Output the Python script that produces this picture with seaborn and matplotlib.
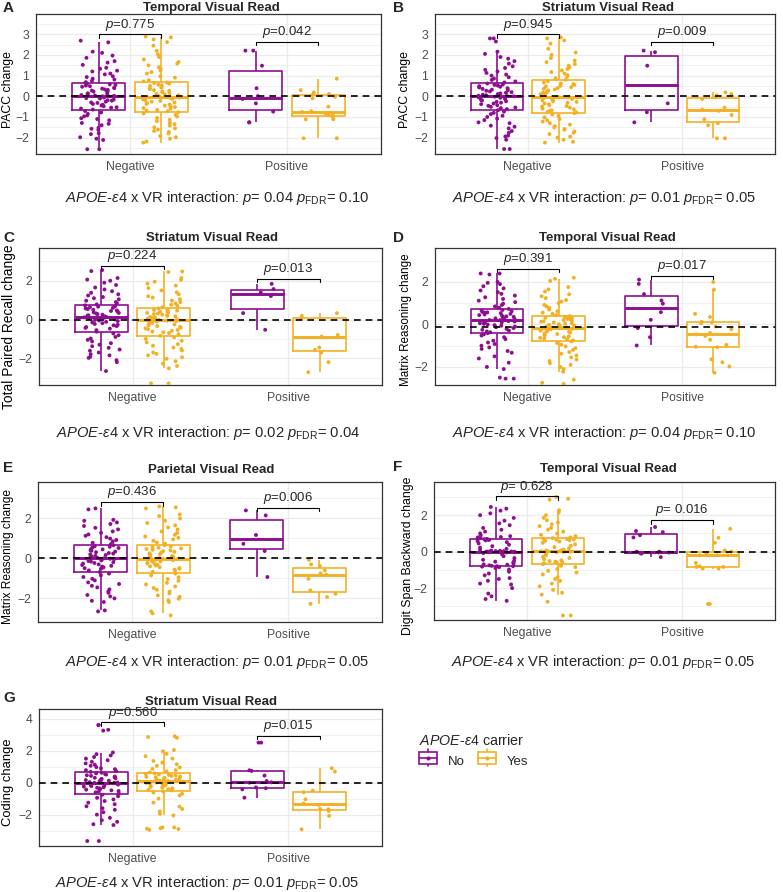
import numpy as np
import pandas as pd
import matplotlib
matplotlib.use("Agg")
import matplotlib.pyplot as plt
import seaborn as sns
from matplotlib.ticker import MultipleLocator
from matplotlib.patches import Rectangle, Patch
from matplotlib.lines import Line2D
from matplotlib.legend_handler import HandlerBase

# -------- data --------

vr_levels = ["Negative", "Positive"]
carrier_levels = ["No", "Yes"]

panel_letters = ["A", "B", "C", "D", "E", "F", "G"]
panel_titles = ["Temporal Visual Read", "Striatum Visual Read", "Striatum Visual Read",
                "Temporal Visual Read", "Parietal Visual Read", "Temporal Visual Read",
                "Striatum Visual Read"]
y_labels = ["PACC change", "PACC change", "Total Paired Recall change",
            "Matrix Reasoning change", "Matrix Reasoning change",
            "Digit Span Backward change", "Coding change"]
neg_p = ["=0.775", "=0.945", "=0.224", "=0.391", "=0.436", "= 0.628", "=0.560"]
pos_p = ["=0.042", "=0.009", "=0.013", "=0.017", "=0.006", "= 0.016", "=0.015"]
inter_p = ["0.04", "0.01", "0.02", "0.04", "0.01", "0.01", "0.01"]
fdr_p = ["0.10", "0.05", "0.04", "0.10", "0.05", "0.05", "0.05"]

# A: PACC, temporal
a_neg_no = [-2.56, -2.56, -2.11, -2.05, -1.98, -1.83, -1.79, -1.62, -1.57, -1.52, -1.4, -1.33, -1.29, -1.16,
            -1.1, -1.06, -0.97, -0.92, -0.85, -0.78, -0.71, -0.64, -0.59, -0.55, -0.53, -0.48, -0.44, -0.41,
            -0.37, -0.32, -0.3, -0.26, -0.21, -0.19, -0.16, -0.11, -0.09, -0.06, -0.04, -0.01, 0.0, 0.02,
            0.04, 0.06, 0.1, 0.13, 0.14, 0.19, 0.22, 0.23, 0.28, 0.31, 0.33, 0.37, 0.4, 0.41, 0.46, 0.49,
            0.52, 0.55, 0.58, 0.61, 0.66, 0.68, 0.75, 0.81, 0.85, 0.93, 0.97, 1.06, 1.1, 1.2, 1.24, 1.33,
            1.38, 1.52, 1.63, 1.7, 1.86, 1.97, 2.1, 2.16, 2.61, 2.69]
a_neg_yes = [-2.24, -2.19, -2.05, -1.98, -1.92, -1.8, -1.72, -1.68, -1.61, -1.55, -1.5, -1.42, -1.35, -1.28,
             -1.2, -1.14, -1.05, -0.98, -0.9, -0.83, -0.77, -0.72, -0.69, -0.66, -0.6, -0.57, -0.52, -0.49,
             -0.45, -0.4, -0.37, -0.33, -0.3, -0.26, -0.22, -0.19, -0.15, -0.12, -0.09, -0.06, -0.04,
             -0.02, 0.01, 0.05, 0.09, 0.12, 0.16, 0.2, 0.23, 0.27, 0.3, 0.35, 0.38, 0.42, 0.46, 0.5, 0.53,
             0.57, 0.61, 0.64, 0.67, 0.72, 0.78, 0.9, 0.96, 1.1, 1.17, 1.25, 1.33, 1.4, 1.5, 1.58, 1.66,
             1.78, 1.9, 2.03, 2.2, 2.45, 2.62, 2.75, 2.85, 2.89]
a_pos_no = [2.21, 2.21, 1.48, 0.39, 0.01, -0.13, -0.34, -0.74, -1.26, -1.26]
a_pos_yes = [0.85, 0.30, 0.19, 0.11, 0.08, -0.02, -0.1, -0.5, -0.72, -0.76, -0.82, -0.87, -0.9, -0.99,
             -1.11, -1.11, -2.03, -2.03]

# B: PACC, striatum
b_neg_no = [-2.55, -2.55, -2.1, -2.02, -1.94, -1.9, -1.76, -1.68, -1.55, -1.47, -1.42, -1.3, -1.26, -1.15,
            -1.08, -1.0, -0.94, -0.86, -0.8, -0.74, -0.67, -0.62, -0.57, -0.54, -0.51, -0.46, -0.43, -0.38,
            -0.35, -0.31, -0.27, -0.24, -0.2, -0.17, -0.13, -0.1, -0.07, -0.05, -0.02, 0.0, 0.01,
            0.03, 0.05, 0.08, 0.11, 0.14, 0.17, 0.2, 0.24, 0.27, 0.3, 0.32, 0.36, 0.39, 0.43, 0.46, 0.49,
            0.52, 0.55, 0.57, 0.62, 0.67, 0.72, 0.79, 0.86, 0.92, 1.0, 1.05, 1.13, 1.2, 1.28, 1.37, 1.45,
            1.58, 1.7, 1.82, 1.9, 2.05, 2.16, 2.65, 2.8, 2.8]
b_neg_yes = [-2.24, -2.2, -2.1, -2.0, -1.95, -1.83, -1.76, -1.7, -1.62, -1.58, -1.5, -1.44, -1.37, -1.3,
             -1.22, -1.16, -1.1, -1.02, -0.95, -0.88, -0.82, -0.78, -0.75, -0.71, -0.68, -0.63, -0.6, -0.55,
             -0.5, -0.47, -0.43, -0.39, -0.35, -0.31, -0.27, -0.24, -0.2, -0.16, -0.13, -0.1, -0.07,
             -0.05, -0.02, 0.02, 0.06, 0.1, 0.14, 0.17, 0.21, 0.25, 0.29, 0.33, 0.36, 0.4, 0.44, 0.48, 0.51,
             0.55, 0.59, 0.62, 0.67, 0.73, 0.8, 0.87, 0.95, 1.02, 1.1, 1.17, 1.25, 1.32, 1.4, 1.48, 1.56,
             1.65, 1.73, 1.85, 2.0, 2.12, 2.3, 2.55, 2.7, 2.8, 2.85]
b_pos_no = [2.21, 2.13, 1.48, -0.34, -0.77, -1.26]
b_pos_yes = [0.19, 0.11, 0.05, -0.05, -0.13, -0.55, -0.7, -0.65, -0.9, -1.11, -1.3, -1.4, -2.03, -2.03]

# C: Total Paired Recall, striatum
c_neg_no = [-2.66, -2.2, -2.1, -1.98, -1.92, -1.85, -1.79, -1.7, -1.61, -1.55, -1.46, -1.38, -1.3, -1.22,
            -1.13, -1.05, -0.98, -0.9, -0.81, -0.72, -0.63, -0.55, -0.47, -0.43, -0.39, -0.34, -0.3, -0.27,
            -0.23, -0.19, -0.15, -0.12, -0.08, -0.05, -0.02, 0.01, 0.03, 0.06, 0.08, 0.1, 0.11,
            0.13, 0.16, 0.19, 0.22, 0.25, 0.28, 0.31, 0.34, 0.37, 0.41, 0.44, 0.47, 0.5, 0.54, 0.57, 0.6,
            0.63, 0.66, 0.68, 0.73, 0.78, 0.84, 0.9, 0.97, 1.04, 1.1, 1.16, 1.24, 1.3, 1.38, 1.46, 1.55,
            1.65, 1.78, 1.9, 2.0, 2.06, 2.14, 2.5, 2.55]
c_neg_yes = [-3.3, -3.3, -2.52, -2.4, -2.28, -2.15, -2.03, -1.95, -1.85, -1.77, -1.7, -1.6, -1.52, -1.45,
             -1.35, -1.27, -1.18, -1.1, -1.0, -0.92, -0.84, -0.76, -0.7, -0.66, -0.62, -0.58, -0.54, -0.5,
             -0.46, -0.42, -0.38, -0.34, -0.3, -0.26, -0.22, -0.18, -0.14, -0.11, -0.08, -0.06, -0.04,
             -0.02, 0.01, 0.04, 0.07, 0.1, 0.13, 0.16, 0.19, 0.22, 0.25, 0.28, 0.31, 0.34, 0.37, 0.4, 0.43,
             0.46, 0.49, 0.52, 0.57, 0.63, 0.7, 0.76, 0.83, 0.9, 0.98, 1.05, 1.13, 1.2, 1.3, 1.4, 1.5,
             1.62, 1.75, 1.85, 1.95, 2.05, 2.14, 2.45, 2.48]
c_pos_no = [1.84, 1.57, 1.40, 1.21, 0.33, -0.53]
c_pos_yes = [0.33, 0.19, 0.12, 0.05, -0.8, -0.88, -1.45, -1.57, -1.71, -2.2, -2.72]

# D: Matrix Reasoning, temporal
d_neg_no = [-2.55, -2.55, -2.5, -2.1, -2.0, -1.8, -1.6, -1.5, -1.33, -1.25, -1.15, -1.08, -1.0, -0.92,
            -0.85, -0.76, -0.69, -0.6, -0.52, -0.46, -0.41, -0.37, -0.33, -0.29, -0.25, -0.21, -0.17, -0.13,
            -0.1, -0.06, -0.03, 0.0, 0.03, 0.06, 0.09, 0.1, 0.12, 0.14, 0.16, 0.18,
            0.2, 0.21, 0.23, 0.26, 0.29, 0.32, 0.35, 0.36, 0.38, 0.41, 0.44, 0.47, 0.5, 0.53, 0.56, 0.57,
            0.59, 0.62, 0.65, 0.68, 0.73, 0.79, 0.85, 0.92, 0.98, 1.05, 1.12, 1.2, 1.28, 1.36, 1.44, 1.52,
            1.6, 1.7, 1.8, 1.9, 1.96, 2.0, 2.35, 2.4, 2.4]
d_neg_yes = [-2.8, -2.75, -2.6, -2.22, -2.1, -2.0, -1.9, -1.82, -1.72, -1.65, -1.55, -1.46, -1.38, -1.3,
             -1.2, -1.12, -1.03, -0.95, -0.87, -0.8, -0.75, -0.7, -0.67, -0.63, -0.6, -0.56, -0.52, -0.49,
             -0.45, -0.42, -0.38, -0.35, -0.32, -0.29, -0.26, -0.23, -0.21, -0.19, -0.17, -0.15,
             -0.14, -0.11, -0.08, -0.05, -0.02, 0.01, 0.04, 0.07, 0.1, 0.13, 0.15, 0.18, 0.21, 0.24, 0.26,
             0.29, 0.31, 0.33, 0.35, 0.39, 0.44, 0.5, 0.56, 0.62, 0.7, 0.78, 0.85, 0.92, 1.0, 1.08, 1.15,
             1.24, 1.33, 1.42, 1.55, 1.65, 1.76, 2.05, 2.15, 2.2]
d_pos_no = [2.11, 1.91, 1.43, 1.13, 0.98, 0.58, 0.22, -0.17, -0.6, -0.99]
d_pos_yes = [2.0, 1.64, 0.5, 0.35, 0.12, 0.1, 0.06, -0.1, -0.22, -0.4, -0.47, -0.54, -0.72, -0.96,
             -1.05, -1.07, -1.64, -1.78, -1.98, -2.27]

# E: Matrix Reasoning, parietal
e_neg_no = [-2.65, -2.6, -2.18, -2.12, -2.0, -1.9, -1.83, -1.72, -1.65, -1.55, -1.45, -1.37, -1.28, -1.2,
            -1.1, -1.02, -0.93, -0.85, -0.76, -0.68, -0.6, -0.52, -0.49, -0.45, -0.41, -0.37, -0.33, -0.3,
            -0.26, -0.23, -0.19, -0.16, -0.13, -0.1, -0.07, -0.04, -0.02, 0.0, 0.01, 0.02,
            0.04, 0.07, 0.1, 0.13, 0.17, 0.2, 0.24, 0.27, 0.31, 0.34, 0.38, 0.41, 0.45, 0.48, 0.52, 0.55,
            0.58, 0.61, 0.66, 0.72, 0.78, 0.85, 0.92, 0.99, 1.06, 1.13, 1.2, 1.28, 1.35, 1.45, 1.53, 1.62,
            1.72, 1.8, 1.88, 1.93, 2.45, 2.5]
e_neg_yes = [-2.85, -2.75, -2.65, -2.18, -2.1, -2.02, -1.92, -1.85, -1.75, -1.66, -1.57, -1.48, -1.4, -1.3,
             -1.22, -1.12, -1.03, -0.94, -0.85, -0.76, -0.67, -0.61, -0.56, -0.52, -0.48, -0.44, -0.4, -0.36,
             -0.32, -0.29, -0.25, -0.22, -0.18, -0.15, -0.12, -0.09, -0.06, -0.04, -0.03,
             -0.01, 0.02, 0.05, 0.08, 0.12, 0.15, 0.19, 0.22, 0.26, 0.29, 0.33, 0.36, 0.4, 0.43, 0.47, 0.5,
             0.53, 0.55, 0.6, 0.66, 0.73, 0.8, 0.88, 0.95, 1.03, 1.1, 1.18, 1.27, 1.35, 1.45, 1.55, 1.65,
             1.77, 1.88, 2.0, 2.12, 2.2, 2.5, 2.55, 2.6]
e_pos_no = [2.4, 2.15, 1.17, 0.73, 0.37, -0.93]
e_pos_yes = [-0.07, -0.3, -0.38, -0.6, -0.75, -0.82, -1.02, -1.6, -1.77, -1.93, -2.27]

# F: Digit Span Backward, temporal
f_neg_no = [-2.7, -2.6, -2.45, -2.3, -2.0, -1.8, -1.75, -1.6, -1.5, -1.45, -1.3, -1.2, -1.1, -0.98, -0.9,
            -0.85, -0.82, -0.8, -0.8, -0.78, -0.75, -0.72, -0.7, -0.65, -0.6, -0.55, -0.5, -0.45, -0.35,
            -0.25, -0.15, -0.08, -0.05, -0.03, -0.02, -0.01, 0.0, 0.0, 0.0, 0.0,
            0.0, 0.01, 0.02, 0.03, 0.05, 0.06, 0.1, 0.15, 0.22, 0.3, 0.38, 0.45, 0.52, 0.58, 0.62, 0.64,
            0.66, 0.68, 0.7, 0.72, 0.75, 0.78, 0.8, 0.85, 0.9, 1.0, 1.1, 1.2, 1.3, 1.45, 1.55, 1.7, 1.85,
            2.0, 2.1, 2.25, 2.36, 2.45]
f_neg_yes = [-3.5, -3.5, -2.75, -2.36, -2.25, -2.1, -1.9, -1.75, -1.6, -1.5, -1.4, -1.25, -1.15, -1.05,
             -0.95, -0.85, -0.78, -0.72, -0.68, -0.64, -0.6, -0.57, -0.55, -0.52, -0.48, -0.42, -0.35, -0.28,
             -0.2, -0.12, -0.06, -0.03, -0.01, 0.0, 0.0, 0.01, 0.02, 0.03, 0.04, 0.05,
             0.06, 0.08, 0.12, 0.18, 0.25, 0.32, 0.4, 0.48, 0.55, 0.6, 0.63, 0.65, 0.67, 0.69, 0.7, 0.71,
             0.74, 0.78, 0.85, 0.92, 1.0, 1.1, 1.2, 1.3, 1.4, 1.5, 1.6, 1.72, 1.85, 2.0, 2.15, 2.27, 2.85,
             2.9, 3.0]
f_pos_no = [1.35, 1.13, 1.07, 0.9, 0.78, 0.0, 0.0, -0.05, -0.05, -0.1, -0.1, -0.3]
f_pos_yes = [1.25, 0.76, 0.49, 0.07, 0.0, -0.1, -0.2, -0.2, -0.2, -0.62, -0.84, -0.84, -0.8, -0.93, -0.93,
             -2.87, -2.87]

# G: Coding, striatum
g_neg_no = [-3.65, -3.65, -2.65, -2.6, -2.45, -2.35, -2.2, -2.0, -1.85, -1.7, -1.6, -1.48, -1.35, -1.25,
            -1.15, -1.05, -0.95, -0.85, -0.76, -0.68, -0.61, -0.56, -0.52, -0.48, -0.44, -0.4, -0.36, -0.32,
            -0.29, -0.25, -0.22, -0.18, -0.15, -0.12, -0.09, -0.06, -0.04, -0.02, -0.01,
            0.01, 0.03, 0.06, 0.09, 0.12, 0.16, 0.2, 0.23, 0.27, 0.3, 0.34, 0.38, 0.42, 0.46, 0.5, 0.54,
            0.58, 0.62, 0.67, 0.72, 0.78, 0.84, 0.9, 0.97, 1.05, 1.12, 1.2, 1.3, 1.4, 1.5, 1.6, 1.7, 1.78,
            1.88, 3.25, 3.3, 3.6, 3.6]
g_neg_yes = [-2.95, -2.9, -2.88, -2.85, -2.8, -2.8, -2.05, -1.95, -1.8, -1.65, -1.5, -1.25, -1.0, -0.8,
             -0.7, -0.62, -0.55, -0.49, -0.45, -0.41, -0.36, -0.31, -0.27, -0.22, -0.18, -0.14, -0.1, -0.06,
             -0.02, 0.01, 0.04, 0.06, 0.08, 0.1, 0.12, 0.15, 0.18, 0.21, 0.24, 0.27, 0.3, 0.33, 0.36, 0.39,
             0.42, 0.45, 0.48, 0.51, 0.54, 0.58, 0.64, 0.7, 0.78, 0.86, 0.95, 1.05, 1.15, 1.25, 1.35, 1.5,
             1.65, 1.8, 1.95, 2.04, 2.8, 2.85, 2.9]
g_pos_no = [2.5, 2.5, 0.77, 0.73, 0.44, 0.1, 0.02, 0.0, -0.3, -0.35, -0.42, -0.94]
g_pos_yes = [0.9, 0.69, -0.5, -0.6, -1.04, -1.3, -1.4, -1.65, -1.67, -1.77, -2.08, -2.92]

panel_data = [
    (a_neg_no, a_neg_yes, a_pos_no, a_pos_yes),
    (b_neg_no, b_neg_yes, b_pos_no, b_pos_yes),
    (c_neg_no, c_neg_yes, c_pos_no, c_pos_yes),
    (d_neg_no, d_neg_yes, d_pos_no, d_pos_yes),
    (e_neg_no, e_neg_yes, e_pos_no, e_pos_yes),
    (f_neg_no, f_neg_yes, f_pos_no, f_pos_yes),
    (g_neg_no, g_neg_yes, g_pos_no, g_pos_yes),
]

# reference line of each panel (panel D sits a bit below zero)
ref_line = [0, 0, 0, -0.13, 0, 0, 0]

# -------- layout (pixels) --------

W, H = 783, 892
axes_px = [(36, 14, 381, 154), (435, 14, 775, 154),
           (39, 248, 382, 385), (435, 248, 775, 385),
           (38, 482, 382, 622), (434, 482, 775, 620),
           (39, 709, 382, 846)]
y_limits = [(-2.79, 3.98), (-2.79, 3.98), (-3.38, 3.69), (-2.85, 3.6),
            (-3.18, 3.82), (-3.75, 3.82), (-3.96, 4.6)]
y_step = [1, 1, 2, 2, 2, 2, 2]
bracket_y = [(3.0, 2.65), (3.0, 2.65), (2.78, 2.09), (2.61, 2.3),
             (2.82, 2.53), (3.04, 1.73), (3.77, 2.94)]
ylabel_size = [8.8, 8.8, 9.9, 8.4, 8.6, 8.8, 9.4]
# right edge (x) and centre (y) of each y-axis title
ylabel_anchor_px = [(14, 90), (411, 90), (16, 327), (412, 320),
                    (14, 556), (414, 556), (14, 782)]
title_px = [(211, 8), (608, 8), (212, 238), (607, 238), (211, 470), (608, 469), (211, 702)]
letter_px = [(3, 8), (393, 8), (3, 238), (393, 238), (3, 468), (393, 467), (3, 698)]
caption_px = [(217, 198), (604, 198), (208, 433), (604, 433),
              (217, 662), (603, 662), (207, 883)]

pal = ["#8E0E91", "#F2B125"]

sns.set_style("white")
plt.rcParams["font.family"] = ["Liberation Sans", "DejaVu Sans"]
plt.rcParams["mathtext.fontset"] = "custom"
plt.rcParams["mathtext.rm"] = "Liberation Sans"
plt.rcParams["mathtext.it"] = "Liberation Sans:italic"
plt.rcParams["mathtext.bf"] = "Liberation Sans:bold"

fig = plt.figure(figsize=(W / 100, H / 100), dpi=100)


def make_df(neg_no, neg_yes, pos_no, pos_yes):
    rows = []
    for vr, car, vals in [("Negative", "No", neg_no), ("Negative", "Yes", neg_yes),
                          ("Positive", "No", pos_no), ("Positive", "Yes", pos_yes)]:
        rows += [(vr, car, v) for v in vals]
    return pd.DataFrame(rows, columns=["vr", "carrier", "value"])


for i in range(7):
    l, t, r, b = axes_px[i]
    ax = fig.add_axes([l / W, 1 - b / H, (r - l) / W, (b - t) / H])
    df = make_df(*panel_data[i])

    sns.boxplot(data=df, x="vr", y="value", hue="carrier",
                order=vr_levels, hue_order=carrier_levels, palette=pal,
                saturation=1, fill=False, showfliers=False,
                width=0.8, gap=0.15, linewidth=1.2, legend=False, ax=ax,
                medianprops={"linewidth": 2.1}, capprops={"visible": False})
    sns.stripplot(data=df, x="vr", y="value", hue="carrier",
                  order=vr_levels, hue_order=carrier_levels, palette=pal,
                  dodge=True, jitter=0.24, size=2.8, linewidth=0,
                  legend=False, ax=ax, zorder=3)

    ax.axhline(ref_line[i], color="black", lw=1.2, ls=(0, (4, 3)), zorder=5)

    ax.set_xlim(-0.6, 1.6)
    ax.set_ylim(*y_limits[i])
    ax.yaxis.set_major_locator(MultipleLocator(y_step[i]))
    ax.yaxis.set_minor_locator(MultipleLocator(y_step[i] / 2))
    ax.set_axisbelow(True)
    ax.grid(which="major", color="#EBEBEB", lw=0.9)
    ax.grid(which="minor", axis="y", color="#EBEBEB", lw=0.5)
    ax.tick_params(which="major", length=3, width=0.8, color="#333333",
                   labelcolor="#4D4D4D", labelsize=8.8, pad=2)
    ax.tick_params(which="minor", length=0)
    for s in ax.spines.values():
        s.set_color("#333333")
        s.set_linewidth(0.9)

    ax.set_xlabel("")
    ax.set_ylabel(y_labels[i], fontsize=ylabel_size[i], color="black")
    lx_px, ly_px = ylabel_anchor_px[i]
    ax.yaxis.set_label_coords((lx_px - l) / (r - l), (b - ly_px) / (b - t))

    # p-value brackets
    rng = y_limits[i][1] - y_limits[i][0]
    tick = 0.025 * rng
    for k, txt in enumerate([neg_p[i], pos_p[i]]):
        yb = bracket_y[i][k]
        x0, x1 = k - 0.2, k + 0.2
        ax.plot([x0, x0, x1, x1], [yb - tick, yb, yb, yb - tick],
                color="black", lw=0.8, zorder=6)
        ax.annotate(r"$\it{p}$" + txt, (k, yb), xytext=(0, 1.2),
                    textcoords="offset points", ha="center", va="bottom",
                    fontsize=9.5, zorder=6)

    tx, ty = title_px[i]
    fig.text(tx / W, 1 - ty / H, panel_titles[i], fontsize=9.5,
             fontweight="bold", ha="center", va="center")
    lx, ly = letter_px[i]
    fig.text(lx / W, 1 - ly / H, panel_letters[i], fontsize=11,
             fontweight="bold", ha="left", va="center")
    cx, cy = caption_px[i]
    caption = (r"$\it{APOE}$-$\it{\varepsilon4}$ x VR interaction: $\it{p}$= "
               + inter_p[i] + r" $\it{p}_{\mathrm{FDR}}$= " + fdr_p[i])
    fig.text(cx / W, 1 - cy / H, caption, fontsize=10.6, ha="center", va="center")


# -------- legend --------

class BoxHandler(HandlerBase):
    def create_artists(self, legend, orig, xd, yd, w, h, fontsize, trans):
        c = orig.get_edgecolor()
        whisk = Line2D([xd + w / 2, xd + w / 2], [yd - 0.25 * h, yd + 1.25 * h],
                       color=c, lw=1.2, transform=trans)
        box = Rectangle((xd, yd), w, h, facecolor="white", edgecolor=c,
                        lw=1.2, transform=trans)
        med = Line2D([xd, xd + w], [yd + h / 2, yd + h / 2], color=c, lw=1.2,
                     transform=trans)
        dot = Line2D([xd + w / 2], [yd + h / 2], marker="o", ms=2, color=c,
                     transform=trans)
        return [whisk, box, med, dot]


handles = [Patch(facecolor="white", edgecolor=c) for c in pal]
leg = fig.legend(handles, carrier_levels, loc="upper left",
                 bbox_to_anchor=(407 / W, 1 - 721 / H), ncol=2, frameon=False,
                 title=r"$\it{APOE}$-$\it{\varepsilon4}$ carrier",
                 handler_map={Patch: BoxHandler()}, fontsize=9.5, title_fontsize=10.3,
                 handlelength=1.4, handleheight=1.0, columnspacing=1.0,
                 handletextpad=0.8, alignment="left")

fig.savefig("out.png", dpi=100)
